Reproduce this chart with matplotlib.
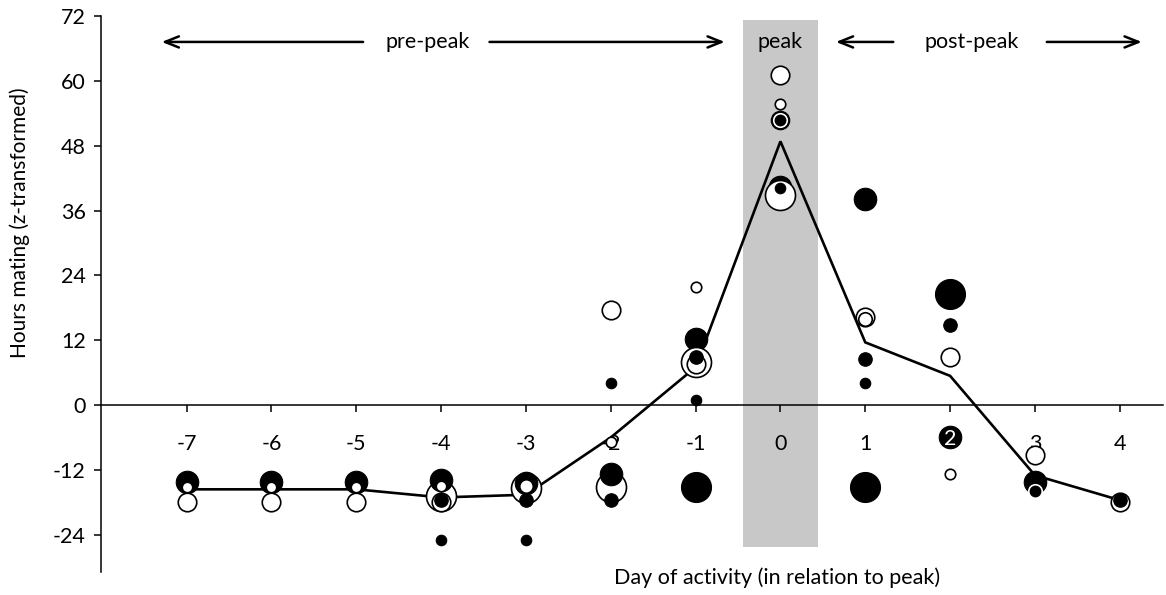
import matplotlib
matplotlib.use("Agg")
import matplotlib.pyplot as plt
from matplotlib.patches import Rectangle

plt.rcParams['font.family'] = ['Lato', 'DejaVu Sans']

# ---- data ----
days = [-7, -6, -5, -4, -3, -2, -1, 0, 1, 2, 3, 4]
mean_line = [-15.6, -15.6, -15.6, -17.1, -16.6, -6.0, 7.0, 48.8, 11.6, 5.4, -13.0, -17.6]

# individual points, listed in drawing order
# fill: 'k' black, 'w' open, 'kw' black with white edge ; size class 1..5
pt_day = [-7, -7, -7,
          -6, -6, -6,
          -5, -5, -5,
          -4, -4, -4, -4, -4, -4,
          -3, -3, -3, -3, -3,
          -2, -2, -2, -2, -2, -2,
          -1, -1, -1, -1, -1, -1, -1,
          0, 0, 0, 0, 0, 0, 0,
          1, 1, 1, 1, 1, 1,
          2, 2, 2, 2, 2,
          3, 3, 3,
          4, 4]
pt_val = [-14.2, -15.1, -17.9,
          -14.2, -15.1, -17.9,
          -14.2, -15.1, -17.9,
          -16.9, -13.8, -15.0, -17.9, -17.6, -25.0,
          -15.4, -14.5, -14.9, -17.5, -25.0,
          17.6, 4.0, -6.9, -15.1, -12.7, -17.6,
          21.8, 12.3, 8.0, 7.6, 8.8, 1.0, -15.1,
          61.1, 55.7, 52.8, 52.8, 40.3, 38.9, 40.1,
          38.1, 16.3, 16.0, 8.6, 4.0, -15.1,
          20.5, 14.8, 8.9, -5.9, -12.7,
          -9.3, -14.2, -16.0,
          -18.0, -17.6]
pt_fill = ['k', 'w', 'w',
           'k', 'w', 'w',
           'k', 'w', 'w',
           'w', 'k', 'w', 'w', 'k', 'k',
           'w', 'k', 'w', 'k', 'k',
           'w', 'k', 'w', 'w', 'k', 'k',
           'w', 'k', 'w', 'w', 'k', 'k', 'k',
           'w', 'w', 'k', 'kw', 'k', 'w', 'k',
           'k', 'w', 'w', 'k', 'k', 'k',
           'k', 'k', 'w', 'k', 'w',
           'w', 'k', 'kw',
           'w', 'k']
pt_size = [4, 1, 3,
           4, 1, 3,
           4, 1, 3,
           5, 4, 1, 3, 2, 1,
           5, 4, 2, 2, 1,
           3, 1, 1, 5, 4, 2,
           1, 4, 5, 3, 2, 1, 5,
           3, 1, 3, 2, 4, 5, 1,
           4, 3, 2, 2, 1, 5,
           5, 2, 3, 4, 1,
           3, 4, 2,
           3, 2]

x_ticks = days
x_tick_labels = ['-7', '-6', '-5', '-4', '-3', '-2', '-1', '0', '1', '2', '3', '4']
y_ticks = [-24, -12, 0, 12, 24, 36, 48, 60, 72]

# ---- styles ----
size_px = {1: 10.5, 2: 13.5, 3: 18.5, 4: 22.5, 5: 30.0}
DPI = 100
FS = 15.5

fig = plt.figure(figsize=(11.66, 5.95), dpi=DPI)
ax = fig.add_axes([101 / 1166, 1 - 572 / 595, (1163 - 101) / 1166, (572 - 16) / 595])
ax.set_xlim(-8.01, 4.51)
ax.set_ylim(-30.9, 72)

# peak band
ax.add_patch(Rectangle((-0.44, -26.3), 0.88, 71.3 + 26.3, facecolor='#c8c8c8',
                       edgecolor='none', zorder=0))

# mean line
ax.plot(days, mean_line, color='black', lw=1.9, zorder=2, solid_joinstyle='miter')

# points
for d, v, f, s in zip(pt_day, pt_val, pt_fill, pt_size):
    dia_pt = size_px[s] * 72 / DPI
    if f == 'k':
        fc, ec, lw = 'black', 'black', 0.8
    elif f == 'w':
        fc, ec, lw = 'white', 'black', 1.2
    else:
        fc, ec, lw = 'black', 'white', 1.2
    ax.scatter([d], [v], s=dia_pt ** 2, facecolor=fc, edgecolor=ec, linewidths=lw,
               zorder=3, clip_on=False)

# axes styling
for side in ['top', 'right']:
    ax.spines[side].set_visible(False)
ax.spines['bottom'].set_position(('data', 0))
ax.spines['left'].set_linewidth(1.1)
ax.spines['bottom'].set_linewidth(1.1)
ax.set_xticks(x_ticks)
# the "2" label sits under a black marker in the reference: drawn separately in white
ax.set_xticklabels(['' if t == '2' else t for t in x_tick_labels])
ax.set_yticks(y_ticks)
ax.set_yticklabels([str(t) for t in y_ticks])
ax.tick_params(axis='x', direction='out', length=5, width=1.1, pad=16, labelsize=FS)
ax.tick_params(axis='y', direction='out', length=5, width=1.1, pad=6, labelsize=FS)

# white "2" over the black circle at day 2
ax.text(2, -6.3, '2', color='white', fontsize=FS, ha='center', va='center', zorder=5)

# annotations
ay = 67.2
arrow_kw = dict(arrowstyle='->,head_length=1.0,head_width=0.4', lw=1.8, color='black',
                shrinkA=0, shrinkB=0)
ax.annotate('', xy=(-7.295, ay), xytext=(-4.92, ay), arrowprops=arrow_kw, annotation_clip=False)
ax.annotate('', xy=(-0.656, ay), xytext=(-3.43, ay), arrowprops=arrow_kw, annotation_clip=False)
ax.annotate('', xy=(0.653, ay), xytext=(1.33, ay), arrowprops=arrow_kw, annotation_clip=False)
ax.annotate('', xy=(4.26, ay), xytext=(3.14, ay), arrowprops=arrow_kw, annotation_clip=False)
ax.text(-4.16, ay, 'pre-peak', fontsize=FS, ha='center', va='center')
ax.text(0, ay, 'peak', fontsize=FS, ha='center', va='center')
ax.text(2.26, ay, 'post-peak', fontsize=FS, ha='center', va='center')

fig.text(777 / 1166, 1 - 578 / 595, 'Day of activity (in relation to peak)', fontsize=FS,
         ha='center', va='center')
fig.text(20 / 1166, 1 - 223 / 595, 'Hours mating (z-transformed)', fontsize=FS - 0.5,
         ha='center', va='center', rotation=90)

fig.savefig('out.png', dpi=DPI)
